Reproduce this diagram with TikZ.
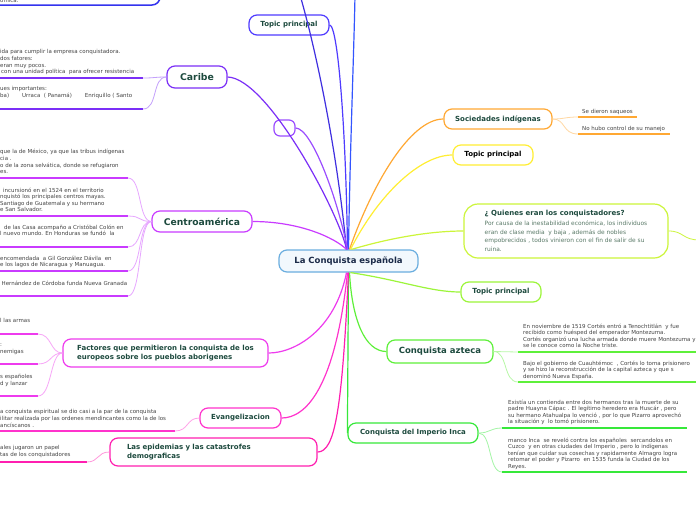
\documentclass[tikz,border=0pt]{standalone}
\usepackage{fontspec}
\setmainfont{DejaVu Sans}
\definecolor{tlcol}{HTML}{3333EE}
\definecolor{tpcol}{HTML}{4F3BFF}
\definecolor{lineA}{HTML}{3F2FE0}
\definecolor{lineB}{HTML}{3355FF}
\definecolor{caribecol}{HTML}{7B2FF7}
\definecolor{emptycol}{HTML}{9B4DFF}
\definecolor{centrocol}{HTML}{C93BFF}
\definecolor{factcol}{HTML}{EE3BEE}
\definecolor{evcol}{HTML}{FF33CC}
\definecolor{epcol}{HTML}{FF1FB0}
\definecolor{soccol}{HTML}{FFA833}
\definecolor{tpycol}{HTML}{FFEE33}
\definecolor{quicol}{HTML}{CCF53A}
\definecolor{tpgcol}{HTML}{9CF53A}
\definecolor{aztcol}{HTML}{5EF03A}
\definecolor{incacol}{HTML}{36E83A}
\definecolor{ctrcol}{HTML}{6BAEDF}
\definecolor{ctrfill}{HTML}{F2F8FD}
\definecolor{titlecol}{HTML}{1D4A3E}
\definecolor{navy}{HTML}{1A2A48}
\definecolor{quitxt}{HTML}{5A7A68}
\definecolor{txtgray}{HTML}{444444}
\begin{document}
\begin{tikzpicture}[x=1pt,y=-1pt,
  mapbox/.style={draw, rounded corners=8pt, line width=1.2pt, fill=white, inner sep=0pt, text=titlecol, font=\bfseries\fontsize{7}{8.5}\selectfont, minimum height=20pt},
  ctext/.style={inner sep=0pt, anchor=north west, align=left, text=txtgray, font=\fontsize{5.5}{6.6}\selectfont},
  conn/.style={line width=1.2pt},
  under/.style={line width=2pt},
  twig/.style={line width=0.8pt},
]
\fill[white] (0,0) rectangle (696,520);
\useasboundingbox (0,0) rectangle (696,520);

% ---------- main nodes ----------
\node[mapbox, draw=tlcol, line width=1.5pt, minimum width=220pt, minimum height=50pt] (tl) at (50,-20) {};
\node[ctext, anchor=base west] (tltxt) at (0,2) {ómica.};
\node[mapbox, draw=tpcol, minimum width=80pt] (tp1) at (289,25) {Topic principal};
\node[mapbox, draw=caribecol, minimum width=60pt, minimum height=22pt, font=\bfseries\fontsize{9.3}{10}\selectfont] (caribe) at (197,77) {Caribe};
\node[mapbox, draw=emptycol, minimum width=21pt, minimum height=16pt, rounded corners=6pt] (empty) at (284.5,128) {};
\node[mapbox, draw=centrocol, minimum width=100pt, minimum height=21pt, font=\bfseries\fontsize{9.2}{10}\selectfont] (centro) at (202,221.5) {Centroamérica};
\node[mapbox, draw=factcol, minimum width=205pt, minimum height=28pt, align=left, font=\bfseries\fontsize{7}{9.3}\selectfont] (fact) at (165.5,353) {Factores que permitieron la conquista de los\\europeos sobre los pueblos aborigenes};
\node[mapbox, draw=evcol, minimum width=81pt] (evang) at (240.5,418) {Evangelizacion};
\node[mapbox, draw=epcol, minimum height=28pt, text width=173pt, inner xsep=17pt, align=left, font=\bfseries\fontsize{7}{9.3}\selectfont] (epid) at (213.5,452) {Las epidemias y las catastrofes\\demograficas};
\node[mapbox, draw=ctrcol, fill=ctrfill, minimum width=139pt, minimum height=22pt, text=navy, font=\bfseries\fontsize{8.5}{10}\selectfont] (ctr) at (348.5,261) {La Conquista española};
\node[mapbox, draw=soccol, minimum width=108pt] (soc) at (498,119) {Sociedades indígenas};
\node[mapbox, draw=tpycol, minimum width=80pt, text=black] (tpy) at (493,155) {Topic principal};
\node[mapbox, draw=quicol, minimum width=204pt, minimum height=54pt, rounded corners=14pt, align=left, text=quitxt, font=\mdseries\fontsize{5.9}{8.7}\selectfont] (qui) at (566,231)
 {{\color{titlecol}\bfseries\fontsize{7}{9}\selectfont ¿ Quienes eran los conquistadores?}\\[1.3pt]
  Por causa de la inestabilidad económica, los individuos\\
  eran de clase media\ \ y baja , además de nobles\\
  empobrecidos , todos vinieron con el fin de salir de su\\
  ruina.};
\node[mapbox, draw=tpgcol, minimum width=80pt] (tpg) at (501,292) {Topic principal};
\node[mapbox, draw=aztcol, minimum width=106pt, minimum height=23pt, font=\bfseries\fontsize{8.5}{10}\selectfont] (azt) at (440,351.5) {Conquista azteca};
\node[mapbox, draw=incacol, minimum width=130pt] (inca) at (413,433) {Conquista del Imperio Inca};

% ---------- connectors from centre ----------
\coordinate (offA) at (300,-5);
\coordinate (offB) at (355,-5);
\draw[conn, tpcol] ([xshift=-1pt]ctr.north) .. controls (346,130) and (338,25) .. (tp1.east);
\draw[conn, lineA] ([xshift=-2pt]ctr.north) .. controls (337,150) and (316,50) .. (offA);
\draw[conn, lineB] ([xshift=0pt]ctr.north) .. controls (350,150) and (354,50) .. (offB);
\draw[conn, caribecol] ([xshift=-2pt]ctr.north) .. controls (340,215) and (268,78) .. (caribe.east);
\draw[conn, emptycol] ([xshift=-1pt]ctr.north) .. controls (338,200) and (312,128) .. (empty.east);
\draw[conn, centrocol] ([xshift=-2pt]ctr.north) .. controls (335,238) and (300,221.5) .. (centro.east);
\draw[conn, soccol] ([xshift=1pt]ctr.north) .. controls (372,185) and (410,119) .. (soc.west);
\draw[conn, tpycol] ([xshift=2pt]ctr.north) .. controls (378,195) and (420,155) .. (tpy.west);
\draw[conn, quicol] ([xshift=3pt]ctr.north) .. controls (390,238) and (430,231) .. (qui.west);
\draw[conn, tpgcol] ([xshift=2pt]ctr.south) .. controls (400,280) and (430,292) .. (tpg.west);
\draw[conn, aztcol] ([xshift=1pt]ctr.south) .. controls (352,320) and (365,351.5) .. (azt.west);
\draw[conn, incacol] (ctr.south) -- (inca.west);
\draw[conn, factcol] ([xshift=-2pt]ctr.south) .. controls (335,330) and (295,353) .. (fact.east);
\draw[conn, evcol] ([xshift=-1pt]ctr.south) .. controls (335,390) and (305,418) .. (evang.east);
\draw[conn, epcol] (ctr.south) .. controls (342,410) and (335,452) .. (epid.east);

% ---------- Caribe children ----------
\node[ctext] (cb1) at (0,49.5) {ida para cumplir la empresa conquistadora.\\dos fatores:\\eran muy pocos.\\\hspace*{1pt}con una unidad política\ \ para ofrecer resistencia};
\coordinate (cb1s) at (-2,78); \coordinate (cb1e) at (143,78);
\draw[under, caribecol] (cb1s) -- (cb1e);
\draw[twig, caribecol!45] (cb1e) .. controls (156,78) and (154,77) .. (caribe.west);
\node[ctext] (cb2) at (0,86.5) {ues importantes:\\ba)\hspace*{13pt}Urraca\ \ ( Panamá)\hspace*{13pt}Enriquillo ( Santo};
\coordinate (cb2s) at (-2,109); \coordinate (cb2e) at (143,109);
\draw[under, caribecol] (cb2s) -- (cb2e);
\draw[twig, caribecol!45] (cb2e) .. controls (158,109) and (152,77) .. (caribe.west);

% ---------- Centroamerica children ----------
\node[ctext] (ce1) at (0,149.2) {que la de México, ya que las tribus indígenas\\cia .\\o de la zona selvática, donde se refugiaron\\es.};
\coordinate (ce1s) at (-2,178); \coordinate (ce1e) at (128,178);
\draw[under, centrocol] (ce1s) -- (ce1e);
\draw[twig, centrocol!45] (ce1e) .. controls (142,178) and (138,221.5) .. (centro.west);
\node[ctext] (ce2) at (0,187.5) {\hspace*{3pt}incursionó en el 1524 en el territorio\\nquistó los principales centros mayas.\\Santiago de Guatemala y su hermano\\e San Salvador.};
\coordinate (ce2s) at (-2,216); \coordinate (ce2e) at (128,216);
\draw[under, centrocol] (ce2s) -- (ce2e);
\draw[twig, centrocol!45] (ce2e) .. controls (142,216) and (138,221.5) .. (centro.west);
\node[ctext] (ce3) at (0,224.5) {\hspace*{4pt}de las Casa acompaño a Cristóbal Colón en\\l nuevo mundo. En Honduras se fundó\ \ la};
\coordinate (ce3s) at (-2,247); \coordinate (ce3e) at (128,247);
\draw[under, centrocol] (ce3s) -- (ce3e);
\draw[twig, centrocol!45] (ce3e) .. controls (142,247) and (138,221.5) .. (centro.west);
\node[ctext] (ce4) at (0,255.5) {encomendada\ \ a Gil González Dávila\ \ en\\e los lagos de Nicaragua y Manuagua.};
\coordinate (ce4s) at (-2,271); \coordinate (ce4e) at (128,271);
\draw[under, centrocol] (ce4s) -- (ce4e);
\draw[twig, centrocol!45] (ce4e) .. controls (142,271) and (138,221.5) .. (centro.west);
\node[ctext] (ce5) at (0,280.5) {\hspace*{1.5pt}Hernández de Córdoba funda Nueva Granada};
\coordinate (ce5s) at (-2,296); \coordinate (ce5e) at (128,296);
\draw[under, centrocol] (ce5s) -- (ce5e);
\draw[twig, centrocol!45] (ce5e) .. controls (142,296) and (138,221.5) .. (centro.west);

% ---------- Factores children ----------
\node[ctext] (fa1) at (0,318.5) {l las armas};
\coordinate (fa1s) at (-2,334); \coordinate (fa1e) at (38,334);
\draw[under, factcol] (fa1s) -- (fa1e);
\draw[twig, factcol!45] (fa1e) .. controls (52,334) and (50,353) .. (fact.west);
\node[ctext] (fa2) at (0,343.5) {:\\nemigas};
\coordinate (fa2s) at (-2,364); \coordinate (fa2e) at (38,364);
\draw[under, factcol] (fa2s) -- (fa2e);
\draw[twig, factcol!45] (fa2e) .. controls (52,364) and (50,353) .. (fact.west);
\node[ctext] (fa3) at (0,374.5) {s españoles\\d y lanzar};
\coordinate (fa3s) at (-2,396); \coordinate (fa3e) at (38,396);
\draw[under, factcol] (fa3s) -- (fa3e);
\draw[twig, factcol!45] (fa3e) .. controls (52,396) and (50,353) .. (fact.west);

% ---------- Evangelizacion / epidemias children ----------
\node[ctext] (ev1) at (0,409.5) {a conquista espiritual se dio casi a la par de la conquista\\ilitar realizada por las ordenes mendincantes como la de los\\ancíscanos .};
\coordinate (ev1s) at (-2,431); \coordinate (ev1e) at (175,431);
\draw[under, evcol] (ev1s) -- (ev1e);
\draw[twig, evcol!45] (ev1e) .. controls (189,431) and (186,418) .. (evang.west);
\node[ctext] (ep1) at (0,445.5) {ales jugaron un papel\\tas de los conquistadores};
\coordinate (ep1s) at (-2,462); \coordinate (ep1e) at (87,462);
\draw[under, epcol] (ep1s) -- (ep1e);
\draw[twig, epcol!45] (ep1e) .. controls (99,462) and (97,452) .. (epid.west);

% ---------- Sociedades children ----------
\node[ctext, anchor=west] (s1) at (582,111.5) {Se dieron saqueos};
\coordinate (s1s) at (578,117); \coordinate (s1e) at (637,117);
\draw[under, soccol] (s1s) -- (s1e);
\draw[twig, soccol!45] (soc.east) .. controls (565,119) and (565,117) .. (s1s);
\node[ctext, anchor=west] (s2) at (582,128.5) {No hubo control de su manejo};
\coordinate (s2s) at (578,134); \coordinate (s2e) at (670,134);
\draw[under, soccol] (s2s) -- (s2e);
\draw[twig, soccol!45] (soc.east) .. controls (566,119) and (562,134) .. (s2s);

% ---------- Quienes child (off page) ----------
\coordinate (qoff) at (700,240);
\draw[twig, quicol] (qui.east) .. controls (684,231) and (682,240) .. (qoff);

% ---------- Azteca children ----------
\node[ctext] (a1) at (523,323.5) {En noviembre de 1519 Cortés entró a Tenochtitlán\ \ y fue\\recibido como huésped del emperador Montezuma.\\Cortés organizó una lucha armada donde muere Montezuma y\\se le conoce como la Noche triste.};
\coordinate (a1s) at (518,352); \coordinate (a1e) at (700,352);
\draw[under, aztcol] (a1s) -- (a1e);
\draw[twig, aztcol!45] (azt.east) .. controls (506,351.5) and (505,352) .. (a1s);
\node[ctext] (a2) at (523,360.5) {Bajo el gobierno de Cuauhtémoc\ \ , Cortés lo toma prisionero\\y se hizo la reconstrucción de la capital azteca y que s\\denominó Nueva España.};
\coordinate (a2s) at (518,382); \coordinate (a2e) at (700,382);
\draw[under, aztcol] (a2s) -- (a2e);
\draw[twig, aztcol!45] (azt.east) .. controls (508,351.5) and (503,382) .. (a2s);

% ---------- Inca children ----------
\node[ctext] (i1) at (508,399.5) {Existía un contienda entre dos hermanos tras la muerte de su\\padre Huayna Cápac . El legítimo heredero era Huscár , pero\\su hermano Atahualpa lo venció , por lo que Pizarro aprovechó\\la situación y\ \ lo tomó prisionero.};
\coordinate (i1s) at (502,428); \coordinate (i1e) at (687,428);
\draw[under, incacol] (i1s) -- (i1e);
\draw[twig, incacol!45] (inca.east) .. controls (490,433) and (490,428) .. (i1s);
\node[ctext] (i2) at (508,437.5) {manco Inca\ \ se reveló contra los españoles\ \ sercandolos en\\Cuzco\ \ y en otras ciudades del Imperio , pero lo indígenas\\tenían que cuidar sus cosechas y rapidamente Almagro logra\\retomar el poder y Pizarro\ \ en 1535 funda la Ciudad de los\\Reyes.};
\coordinate (i2s) at (502,472); \coordinate (i2e) at (687,472);
\draw[under, incacol] (i2s) -- (i2e);
\draw[twig, incacol!45] (inca.east) .. controls (492,433) and (488,472) .. (i2s);
\end{tikzpicture}
\end{document}
